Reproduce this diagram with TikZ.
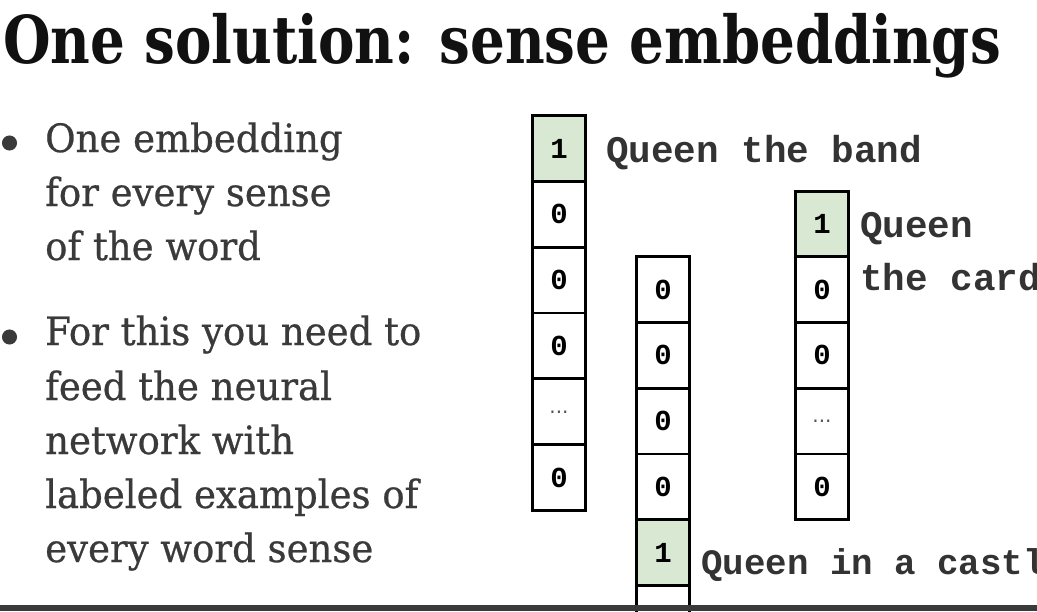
\documentclass[tikz,border=0pt]{standalone}
\usepackage{fontspec}
\newfontfamily\titlefont[FakeStretch=0.828]{DejaVu Serif}
\newfontfamily\bodyfont[FakeStretch=0.95,FakeBold=0.6]{DejaVu Serif}
\newfontfamily\monofont{Liberation Mono}
\newfontfamily\dotfont{DejaVu Sans}
\definecolor{titlecol}{HTML}{111111}
\definecolor{bodycol}{HTML}{3A3A3A}
\definecolor{lblcol}{HTML}{333333}
\definecolor{cellgreen}{HTML}{D9E8D2}
\definecolor{barcol}{HTML}{3A3A3A}
\definecolor{dotgray}{HTML}{555555}
\begin{document}
\begin{tikzpicture}[x=1pt,y=-1pt,
  cell/.style={draw=black,line width=2.8pt,minimum width=53pt,minimum height=65.8pt,inner sep=0pt,outer sep=0pt,
    font=\monofont\bfseries\fontsize{29}{29}\selectfont},
  hot/.style={cell,fill=cellgreen},
  dots/.style={cell,font=\dotfont\fontsize{20}{20}\selectfont\color{dotgray}},
  lbl/.style={anchor=base west,inner sep=0pt,text=lblcol,font=\monofont\bfseries\fontsize{37.6}{37.6}\selectfont},
  body/.style={anchor=base west,inner sep=0pt,text=bodycol,font=\bodyfont\fontsize{39}{39}\selectfont},
  bul/.style={circle,fill=bodycol,draw=bodycol,line width=1pt,inner sep=0pt,minimum size=14pt}]
\useasboundingbox (0,0) rectangle (1037,611);
\fill[white] (0,0) rectangle (1037,611);
% title
\node[anchor=base west,inner sep=0pt,text=titlecol,font=\titlefont\bfseries\fontsize{66}{66}\selectfont] (title) at (3,63) {One solution: sense embeddings};
% bullets
\node[bul] (b1) at (9.5,143) {};
\node[bul] (b2) at (9.5,337) {};
\node[body] (t11) at (45,152) {One embedding};
\node[body] (t12) at (45,206) {for every sense};
\node[body] (t13) at (45,260) {of the word};
\node[body] (t21) at (45,345) {For this you need to};
\node[body] (t22) at (45,400) {feed the neural};
\node[body] (t23) at (45,454) {network with};
\node[body] (t24) at (45,508) {labeled examples of};
\node[body] (t25) at (45,562) {every word sense};
% vector 1
\node[hot] (a1) at (559,148.5) {1};
\node[cell] (a2) at (559,214.3) {0};
\node[cell] (a3) at (559,280.1) {0};
\node[cell] (a4) at (559,345.9) {0};
\node[dots] (a5) at (559,411.7) {\raisebox{-3pt}{...}};
\node[cell] (a6) at (559,477.5) {0};
% vector 2
\node[cell] (c1) at (663,289.5) {0};
\node[cell] (c2) at (663,355.3) {0};
\node[cell] (c3) at (663,421.1) {0};
\node[cell] (c4) at (663,486.9) {0};
\node[hot] (c5) at (663,552.7) {1};
\node[cell] (c6) at (663,618.5) {};
% vector 3
\node[hot] (d1) at (822,224) {1};
\node[cell] (d2) at (822,289.5) {0};
\node[cell] (d3) at (822,355.3) {0};
\node[dots] (d4) at (822,421.1) {\raisebox{-3pt}{...}};
\node[cell] (d5) at (822,486.9) {0};
% labels
\node[lbl] (l1) at (606,162) {Queen the band};
\node[lbl] (l2) at (860,237) {Queen};
\node[lbl] (l3) at (860,290) {the card};
\node[lbl,font=\monofont\bfseries\fontsize{35.8}{35.8}\selectfont] (l4) at (701,574) {Queen in a castle};
% bottom bar
\fill[barcol] (0,605) rectangle (1037,611);
\end{tikzpicture}
\end{document}
